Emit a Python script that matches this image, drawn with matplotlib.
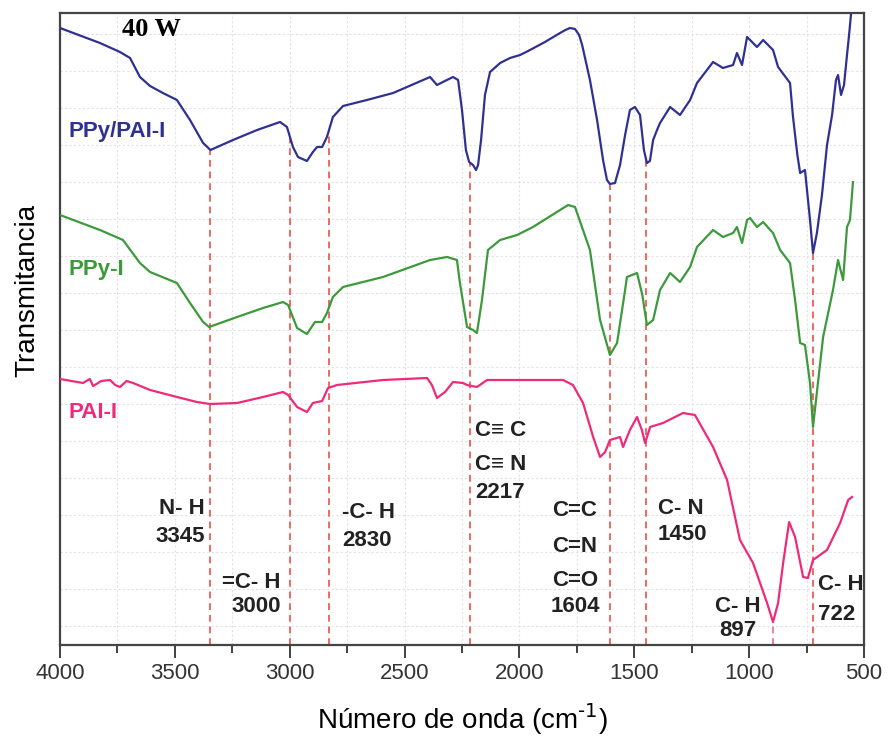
import numpy as np
import matplotlib.pyplot as plt

# espectros FTIR (transmitancia en unidades arbitrarias)
blue_wn = [4000, 3826, 3739, 3695, 3652, 3608, 3552, 3491, 3434, 3377, 3345, 3247, 3142, 3042,
           3012, 2986, 2964, 2925, 2899, 2881, 2859, 2838, 2812, 2768, 2664, 2550, 2389, 2359,
           2333, 2289, 2267, 2250, 2233, 2219, 2202, 2189, 2180, 2167, 2150, 2128, 2084, 2041,
           1997, 1954, 1889, 1823, 1800, 1780, 1758, 1740, 1727, 1693, 1662, 1636, 1619, 1606, 1584, 1562,
           1540, 1519, 1497, 1475, 1458, 1445, 1432, 1418, 1401, 1388, 1344, 1301, 1257, 1227,
           1157, 1114, 1070, 1053, 1031, 1009, 983, 966, 939, 896, 874, 822, 809, 790, 778, 757,
           735, 722, 705, 683, 661, 639, 622, 613, 600, 587, 574, 565, 556]
blue_t = [617, 602, 593, 587, 568, 559, 552, 545, 525, 502, 495, 505, 515, 523,
          518, 498, 488, 484, 493, 498, 498, 508, 528, 539, 545, 552, 568, 560,
          563, 568, 565, 535, 495, 483, 480, 475, 480, 505, 550, 573, 582, 587,
          590, 595, 603, 612, 615, 617, 616, 610, 600, 565, 525, 485, 465, 461, 462, 480,
          510, 535, 538, 530, 495, 482, 484, 505, 515, 522, 538, 530, 545, 562,
          583, 577, 580, 592, 580, 608, 602, 598, 605, 595, 578, 562, 528, 490, 472, 475,
          425, 392, 412, 450, 500, 530, 565, 570, 550, 560, 590, 610, 632]

green_wn = [4000, 3826, 3726, 3652, 3608, 3491, 3434, 3377, 3351, 3229, 3116, 3029, 3007, 2968,
            2925, 2890, 2859, 2838, 2812, 2768, 2594, 2389, 2315, 2272, 2259, 2228, 2202, 2185,
            2163, 2137, 2084, 2010, 1941, 1823, 1788, 1758, 1693, 1649, 1606, 1575, 1540, 1532,
            1488, 1465, 1445, 1418, 1388, 1344, 1301, 1257, 1227, 1157, 1114, 1070, 1053, 1031,
            1009, 996, 966, 939, 896, 865, 822, 800, 778, 757, 735, 722, 704, 678, 635, 613,
            591, 574, 561, 548]
green_t = [430, 415, 405, 382, 373, 362, 342, 323, 318, 328, 337, 343, 340, 317,
           311, 323, 323, 332, 348, 358, 368, 385, 388, 385, 362, 318, 315, 312,
           345, 395, 405, 410, 418, 435, 440, 438, 395, 325, 290, 302, 355, 368,
           372, 350, 320, 325, 355, 372, 363, 378, 398, 415, 408, 412, 418, 402,
           425, 427, 418, 423, 412, 395, 382, 345, 302, 300, 262, 218, 255, 308, 355, 385,
           365, 418, 425, 463]

pink_wn = [4000, 3950, 3900, 3870, 3856, 3820, 3782, 3760, 3739, 3710, 3682, 3650, 3608, 3491,
           3404, 3347, 3229, 3116, 3029, 3007, 2968, 2925, 2899, 2859, 2833, 2794, 2594, 2402,
           2381, 2359, 2324, 2289, 2246, 2228, 2185, 2141, 2010, 1810, 1767, 1723, 1679, 1649,
           1627, 1606, 1562, 1549, 1519, 1488, 1467, 1453, 1431, 1375, 1288, 1236, 1157, 1096,
           1040, 983, 922, 896, 874, 852, 826, 800, 765, 744, 722, 661, 604, 569, 552]
pink_t = [266, 264, 262, 266, 259, 264, 265, 260, 258, 264, 262, 259, 255, 248,
          243, 241, 242, 248, 253, 250, 238, 233, 242, 244, 257, 260, 265, 267,
          260, 247, 253, 263, 262, 260, 258, 265, 265, 265, 260, 242, 208, 188,
          193, 205, 208, 198, 215, 228, 215, 202, 218, 222, 232, 230, 198, 165,
          105, 82, 42, 23, 42, 82, 123, 108, 68, 67, 85, 95, 122, 145, 148]

peak_wn = [3345, 3000, 2830, 2217, 1604, 1450, 722]
peak_pink = [897]

names = ["PPy/PAI-I", "PPy-I", "PAI-I"]
colors = ["#2f3192", "#3c9a3c", "#ef2a7b"]

plt.rcParams['font.family'] = ['Liberation Sans', 'DejaVu Sans']

fig = plt.figure(figsize=(8.91, 7.44), dpi=100)
ax = fig.add_axes([60 / 891, 99 / 744, 804 / 891, 632 / 744])

# lineas punteadas de asignacion de bandas
bw, bt = blue_wn[::-1], blue_t[::-1]
for w in peak_wn:
    ax.vlines(w, 0, np.interp(w, bw, bt), colors="#ee6a62", linestyles=(0, (3.5, 2.5)), lw=1.4, zorder=1)
pw, pt = pink_wn[::-1], pink_t[::-1]
for w in peak_pink:
    ax.vlines(w, 0, np.interp(w, pw, pt), colors="#f07aa8", linestyles=(0, (3.5, 2.5)), lw=1.4, zorder=1)

ax.plot(blue_wn, blue_t, color=colors[0], lw=1.6, zorder=3, solid_joinstyle='round')
ax.plot(green_wn, green_t, color=colors[1], lw=1.6, zorder=3, solid_joinstyle='round')
ax.plot(pink_wn, pink_t, color=colors[2], lw=1.6, zorder=3, solid_joinstyle='round')

ax.set_xlim(4000, 500)
ax.set_ylim(0, 632)
ax.set_xticks(np.arange(500, 4001, 500))
ax.set_xticks(np.arange(750, 4000, 500), minor=True)
ax.set_yticks(np.arange(19, 632, 37))
ax.set_yticklabels([])
ax.tick_params(axis='y', length=0)
ax.tick_params(axis='x', which='major', direction='out', length=9, width=1.3, pad=4,
               labelsize=16, labelcolor='#333333', color='#333333')
ax.tick_params(axis='x', which='minor', direction='out', length=6, width=1.3, color='#333333')
ax.grid(True, which='both', color='#e2e2e2', linestyle=(0, (2, 2)), linewidth=0.8)
ax.set_axisbelow(True)
for s in ax.spines.values():
    s.set_color('#444444')
    s.set_linewidth(1.6)

# etiquetas de las muestras
ax.text(3730, 615, "40 W", family="Liberation Serif", fontweight="bold", fontsize=19, va="center")
ax.text(3965, 514, names[0], color=colors[0], fontweight="bold", fontsize=16, va="center")
ax.text(3965, 375, names[1], color=colors[1], fontweight="bold", fontsize=16, va="center")
ax.text(3965, 233, names[2], color=colors[2], fontweight="bold", fontsize=16, va="center")

# asignaciones
fs = 16
ax.text(3369, 137, "N- H", fontweight="bold", fontsize=fs, ha="right", va="center", color="#222222")
ax.text(3369, 108, "3345", fontweight="bold", fontsize=fs, ha="right", va="center", color="#222222")
ax.text(3038, 63, "=C- H", fontweight="bold", fontsize=fs, ha="right", va="center", color="#222222")
ax.text(3038, 38, "3000", fontweight="bold", fontsize=fs, ha="right", va="center", color="#222222")
ax.text(2772, 132, "-C- H", fontweight="bold", fontsize=fs, ha="left", va="center", color="#222222")
ax.text(2772, 104, "2830", fontweight="bold", fontsize=fs, ha="left", va="center", color="#222222")
ax.text(2193, 215, "C\u2261 C", fontweight="bold", fontsize=fs, ha="left", va="center", color="#222222")
ax.text(2193, 181, "C\u2261 N", fontweight="bold", fontsize=fs, ha="left", va="center", color="#222222")
ax.text(2193, 153, "2217", fontweight="bold", fontsize=fs, ha="left", va="center", color="#222222")
ax.text(1758, 134, "C=C", fontweight="bold", fontsize=fs, ha="center", va="center", color="#222222")
ax.text(1758, 98, "C=N", fontweight="bold", fontsize=fs, ha="center", va="center", color="#222222")
ax.text(1758, 65, "C=O", fontweight="bold", fontsize=fs, ha="center", va="center", color="#222222")
ax.text(1758, 38, "1604", fontweight="bold", fontsize=fs, ha="center", va="center", color="#222222")
ax.text(1397, 137, "C- N", fontweight="bold", fontsize=fs, ha="left", va="center", color="#222222")
ax.text(1397, 110, "1450", fontweight="bold", fontsize=fs, ha="left", va="center", color="#222222")
ax.text(1048, 39, "C- H", fontweight="bold", fontsize=fs, ha="center", va="center", color="#222222")
ax.text(1048, 14, "897", fontweight="bold", fontsize=fs, ha="center", va="center", color="#222222")
ax.text(700, 60, "C- H", fontweight="bold", fontsize=fs, ha="left", va="center", color="#222222")
ax.text(700, 30, "722", fontweight="bold", fontsize=fs, ha="left", va="center", color="#222222")

fig.text(462 / 891, 1 - 719 / 744, r"Número de onda (cm$^{\text{-1}}$)", fontsize=20, ha="center", va="center")
fig.text(27 / 891, 1 - 290 / 744, "Transmitancia", fontsize=20, rotation=90, ha="center", va="center")

fig.savefig("out.png", dpi=100)
